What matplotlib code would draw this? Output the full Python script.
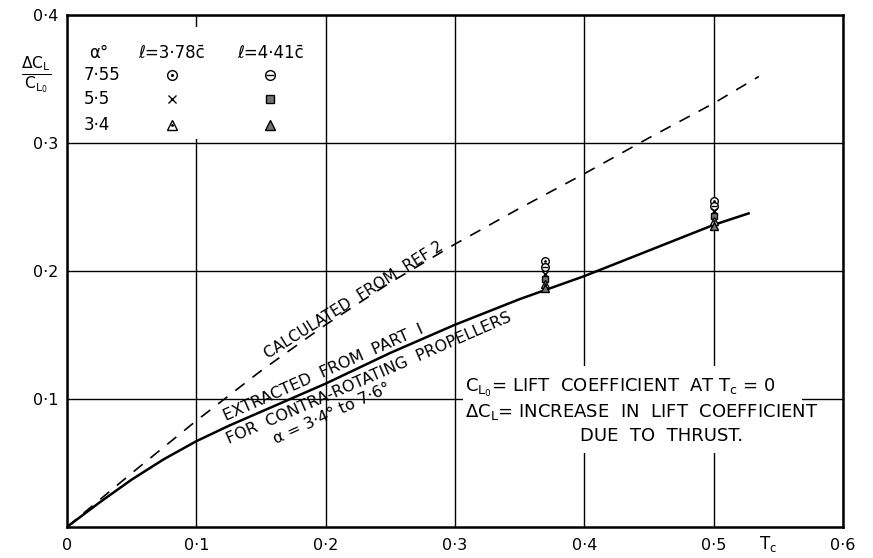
import math
import numpy as np
import matplotlib
matplotlib.use("Agg")
import matplotlib.pyplot as plt
from matplotlib.patches import Rectangle

# Curves
tc_extracted = [0, 0.025, 0.05, 0.075, 0.1, 0.125, 0.15, 0.2, 0.25, 0.3, 0.35, 0.4, 0.45, 0.5, 0.527]
ratio_extracted = [0, 0.019, 0.037, 0.053, 0.067, 0.079, 0.09, 0.112, 0.136, 0.158, 0.178, 0.196, 0.216, 0.236, 0.245]

tc_calculated = [0, 0.05, 0.1, 0.15, 0.2, 0.25, 0.3, 0.35, 0.4, 0.45, 0.5, 0.535]
ratio_calculated = [0, 0.042, 0.083, 0.122, 0.158, 0.191, 0.221, 0.249, 0.276, 0.304, 0.331, 0.352]

# Test points (two thrust coefficients)
tc_tests = [0.37, 0.5]
a755_l378 = [0.208, 0.255]
a755_l441 = [0.203, 0.251]
a55_l378 = [0.198, 0.247]
a55_l441 = [0.194, 0.243]
a34_l378 = [0.190, 0.239]
a34_l441 = [0.187, 0.235]

alpha_labels = ["7·55", "5·5", "3·4"]
length_labels = ["ℓ=3·78c̄", "ℓ=4·41c̄"]

xtick_values = [0, 0.1, 0.2, 0.3, 0.4, 0.5, 0.6]
xtick_labels = ["0", "0·1", "0·2", "0·3", "0·4", "0·5", "0·6"]
ytick_values = [0.1, 0.2, 0.3, 0.4]
ytick_labels = ["0·1", "0·2", "0·3", "0·4"]

plt.rcParams["font.family"] = ["DejaVu Sans"]
plt.rcParams["mathtext.fontset"] = "dejavusans"


def draw_marker(ax, x, y, kind, ms, **kw):
    base = dict(linestyle="none", color="black", mec="black", mew=1.0, zorder=5)
    base.update(kw)
    if kind == "circ_dot":
        ax.plot(x, y, "o", ms=ms, mfc="white", **base)
        ax.plot(x, y, ".", ms=ms * 0.35, **base)
    elif kind == "circ_bar":
        ax.plot(x, y, "o", ms=ms, mfc="white", **base)
        ax.plot(x, y, "_", ms=ms * 0.8, **base)
    elif kind == "cross":
        ax.plot(x, y, "x", ms=ms * 0.9, **base)
    elif kind == "sq_hatch":
        ax.plot(x, y, "s", ms=ms * 0.9, mfc="0.45", **base)
    elif kind == "tri_dot":
        ax.plot(x, y, "^", ms=ms, mfc="white", **base)
        ax.plot(x, y, ".", ms=ms * 0.3, **base)
    elif kind == "tri_hatch":
        ax.plot(x, y, "^", ms=ms, mfc="0.45", **base)


def along(ax, text, xs, ys, x0, angle, offset, va, size):
    # text written along a curve, shifted perpendicular to it
    y0 = np.interp(x0, xs, ys)
    dx = -math.sin(math.radians(angle)) * offset
    dy = math.cos(math.radians(angle)) * offset
    ax.annotate(text, (x0, y0), xytext=(dx, dy), textcoords="offset points",
                rotation=angle, rotation_mode="anchor", ha="left", va=va,
                fontsize=size)


fig = plt.figure(figsize=(8.73, 5.58), dpi=100)
ax = fig.add_axes([0.0767, 0.0556, 0.8889, 0.9175])
ax.set_xlim(0, 0.6)
ax.set_ylim(0, 0.4)
ax.set_xticks(xtick_values, xtick_labels)
ax.set_yticks(ytick_values, ytick_labels)
ax.tick_params(axis="both", length=0, labelsize=11.5)
ax.tick_params(axis="x", pad=8)
ax.tick_params(axis="y", pad=6)
ax.grid(True, color="black", linewidth=1.0)
ax.set_axisbelow(True)
for s in ax.spines.values():
    s.set_linewidth(1.8)

ax.plot(tc_extracted, ratio_extracted, color="black", lw=1.8, zorder=3)
ax.plot(tc_calculated, ratio_calculated, color="black", lw=1.2,
        dashes=(7, 6), zorder=3)

series = [a755_l378, a755_l441, a55_l378, a55_l441, a34_l378, a34_l441]
kinds = ["circ_dot", "circ_bar", "cross", "sq_hatch", "tri_dot", "tri_hatch"]
for vals, kind in zip(series, kinds):
    draw_marker(ax, tc_tests, vals, kind, 5.5)

# legend table in the top left corner (white panel hides the grid)
ax.add_patch(Rectangle((0.003, 0.303), 0.18, 0.088, fc="white", ec="none",
                       zorder=1.5))
ax.text(0.041, 0.926, "α°", transform=ax.transAxes, ha="center", va="center",
        fontsize=12)
for lab, xc in zip(length_labels, [0.135, 0.262]):
    ax.text(xc, 0.926, lab, transform=ax.transAxes, ha="center", va="center",
            fontsize=12)
row_y = [0.883, 0.836, 0.785]
for lab, yr in zip(alpha_labels, row_y):
    ax.text(0.021, yr, lab, transform=ax.transAxes, ha="left", va="center",
            fontsize=12)
for i, yr in enumerate(row_y):
    draw_marker(ax, [0.135], [yr], kinds[2 * i], 7, transform=ax.transAxes)
    draw_marker(ax, [0.262], [yr], kinds[2 * i + 1], 7, transform=ax.transAxes)

# y-axis label as a fraction
fig.text(0.041, 0.866, r"$\frac{\Delta \mathrm{C_L}}{\mathrm{C_{L_0}}}$",
         ha="center", va="center", fontsize=16)
ax.text(0.542, -0.034, r"$\mathrm{T_c}$", transform=ax.get_xaxis_transform(),
        ha="center", va="center", fontsize=12)

# curve annotations
along(ax, "CALCULATED  FROM  REF 2", tc_calculated, ratio_calculated,
      0.158, 32, 2, "bottom", 11)
along(ax, "EXTRACTED  FROM  PART  I", tc_extracted, ratio_extracted,
      0.125, 24, 2, "bottom", 11.5)
along(ax, "FOR  CONTRA-ROTATING  PROPELLERS", tc_extracted, ratio_extracted,
      0.120, 23.5, -3, "top", 11.5)
along(ax, "α = 3·4° to 7·6°", tc_extracted, ratio_extracted,
      0.150, 24.5, -17, "top", 11.5)

# definitions box
ax.add_patch(Rectangle((0.306, 0.058), 0.262, 0.068, fc="white", ec="none",
                       zorder=2))
ax.text(0.308, 0.109, r"$\mathrm{C_{L_0}}$= LIFT  COEFFICIENT  AT $\mathrm{T_c}$ = 0",
        ha="left", va="center", fontsize=13, zorder=4)
ax.text(0.308, 0.090, r"$\Delta\mathrm{C_L}$= INCREASE  IN  LIFT  COEFFICIENT",
        ha="left", va="center", fontsize=13, zorder=4)
ax.text(0.460, 0.071, "DUE  TO  THRUST.", ha="center", va="center",
        fontsize=13, zorder=4)

fig.savefig("out.png", dpi=100)
